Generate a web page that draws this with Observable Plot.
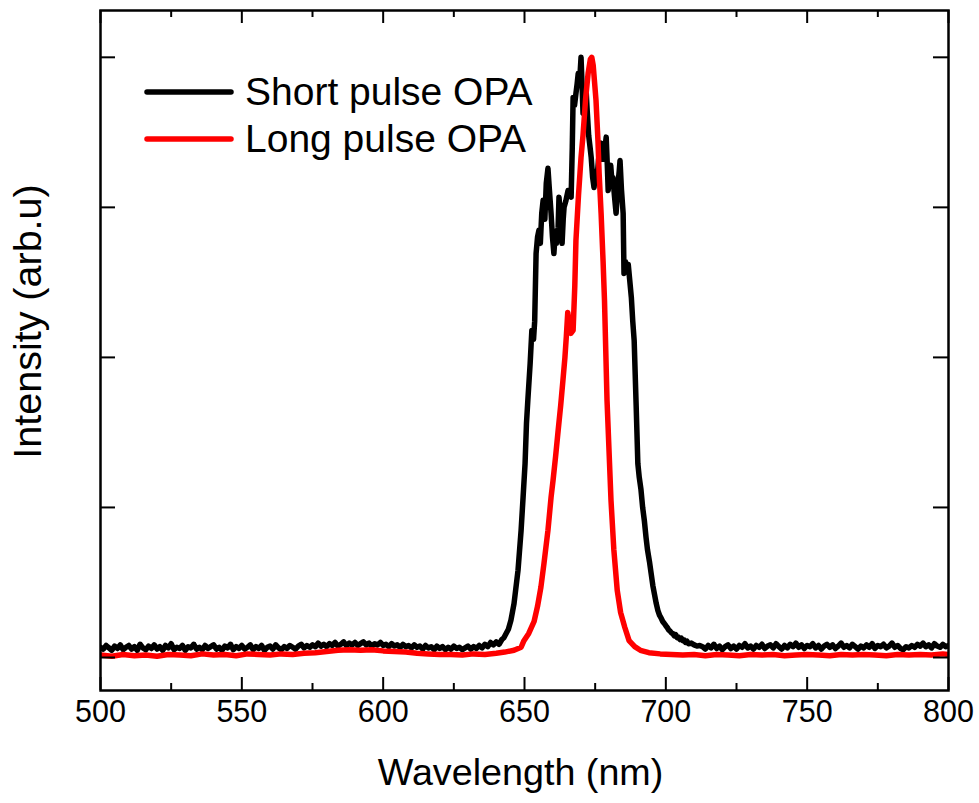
<!DOCTYPE html>
<html>
<head>
<meta charset="utf-8">
<script src="https://cdn.jsdelivr.net/npm/d3@7"></script>
<script src="https://cdn.jsdelivr.net/npm/@observablehq/plot@0.6"></script>
<style>
  html, body { margin: 0; padding: 0; background: #fff; }
  #wrap { position: relative; width: 979px; height: 803px; }
  #legend { position: absolute; left: 0; top: 0; pointer-events: none; }
</style>
</head>
<body>
<div id="wrap"></div>
<script>
// ---- data ----
const seriesNames = ["Short pulse OPA", "Long pulse OPA"];
const seriesColors = ["#000000", "#ff0000"];

const xTicks = [500, 550, 600, 650, 700, 750, 800];
const xMinorTicks = [525, 575, 625, 675, 725, 775];
const yTicks = [0, 0.25, 0.5, 0.75, 1];

// Short pulse OPA (black)
const blackWl = [
  500,501,502,503,504,505,506,507,508,509,
  510,511,512,513,514,515,516,517,518,519,
  520,521,522,523,524,525,526,527,528,529,
  530,531,532,533,534,535,536,537,538,539,
  540,541,542,543,544,545,546,547,548,549,
  550,551,552,553,554,555,556,557,558,559,
  560,561,562,563,564,565,566,567,568,569,
  570,571,572,573,574,575,576,577,578,579,
  580,581,582,583,584,585,586,587,588,589,
  590,591,592,593,594,595,596,597,598,599,
  600,601,602,603,604,605,606,607,608,609,
  610,611,612,613,614,615,616,617,618,619,
  620,621,622,623,624,625,626,627,628,629,
  630,631,632,633,634,635,636,637,638,639,
  640,641,642,642.7,643.5,644.3,645.2,646.3,647.7,648.8,649.5,650.2,650.7,651.2,652,652.6,653.2,653.6,654.1,654.6,
  655.1,655.6,656.1,656.6,657.2,657.7,658.3,658.8,659.4,659.9,660.4,660.9,661.3,661.9,662.2,662.7,663.3,663.7,664,664.6,
  665.4,666,666.5,666.9,667.2,667.7,668.2,668.6,669,669.5,670,670.4,670.7,671.2,671.8,672.2,672.7,673.2,673.6,674.1,
  674.6,675.1,675.6,676.2,677.1,677.6,678,678.5,678.9,679.3,679.6,680.1,680.5,681,681.3,681.8,682.4,682.8,683.1,683.5,
  683.8,684.3,684.9,685.2,685.7,686.2,686.7,687.2,687.8,688.3,688.8,689.5,690.1,690.6,691.2,691.8,692.4,693,693.5,694.2,
  694.8,695.4,696,696.6,697.2,697.8,698.3,698.9,699.4,700,700.5,701,701.5,702,702.5,703,703.5,704,704.4,705,
  705.5,706,706.5,707,707.5,708,709,710,711,712,
  713,714,715,716,717,718,719,720,721,
  722,723,724,725,726,727,728,729,730,731,
  732,733,734,735,736,737,738,739,740,741,
  742,743,744,745,746,747,748,749,750,751,
  752,753,754,755,756,757,758,759,760,761,
  762,763,764,765,766,767,768,769,770,771,
  772,773,774,775,776,777,778,779,780,781,
  782,783,784,785,786,787,788,789,790,791,
  792,793,794,795,796,797,798,799,800
];
const blackInt = [
  .017,.014,.020,.016,.012,.019,.015,.021,.013,.017,
  .020,.014,.018,.012,.022,.016,.013,.019,.015,.021,
  .014,.018,.012,.020,.016,.023,.013,.017,.015,.020,
  .012,.018,.016,.022,.014,.017,.013,.020,.015,.018,
  .021,.014,.017,.012,.019,.016,.022,.013,.018,.015,
  .020,.014,.017,.021,.013,.018,.015,.020,.012,.017,
  .019,.014,.021,.016,.013,.018,.015,.020,.017,.014,
  .019,.022,.016,.020,.017,.021,.018,.024,.019,.022,
  .018,.023,.020,.025,.019,.022,.026,.020,.024,.021,
  .025,.020,.023,.026,.021,.024,.019,.023,.021,.025,
  .020,.022,.018,.023,.019,.021,.017,.022,.018,.020,
  .016,.021,.017,.019,.014,.020,.016,.018,.013,.019,
  .015,.018,.013,.017,.014,.019,.015,.017,.013,.016,
  .019,.014,.018,.015,.020,.016,.022,.018,.025,.021,
  .026,.022,.030,.033,.040,.047,.062,.090,.145,.212,.267,.323,.390,.430,.490,.545,.530,.560,.673,.700,
  .712,.690,.740,.762,.730,.790,.815,.780,.740,.700,.673,.710,.690,.717,.767,.740,.690,.730,.750,.760,
  .778,.770,.767,.850,.933,.920,.940,.955,.973,.960,1.000,.950,.907,.930,.945,.910,.870,.850,.833,.800,
  .783,.810,.795,.830,.857,.830,.845,.850,.867,.820,.778,.800,.820,.790,.800,.770,.740,.770,.790,.810,
  .828,.780,.740,.640,.660,.645,.655,.630,.600,.560,.528,.420,.323,.300,.280,.250,.228,.200,.180,.160,
  .140,.120,.105,.090,.078,.070,.066,.060,.057,.053,.050,.046,.044,.041,.040,.036,.038,.033,.034,.030,
  .032,.028,.029,.025,.027,.023,.024,.021,.019,.020,
  .018,.014,.020,.016,.022,.015,.019,.013,.018,
  .021,.015,.019,.014,.020,.017,.023,.016,.019,.014,
  .020,.017,.022,.015,.019,.021,.016,.023,.018,.014,
  .020,.016,.022,.018,.024,.017,.021,.015,.020,.018,
  .023,.016,.020,.014,.019,.022,.017,.021,.015,.019,
  .024,.017,.020,.016,.022,.018,.014,.019,.016,.021,
  .017,.023,.015,.020,.018,.022,.016,.019,.024,.017,
  .020,.015,.013,.018,.016,.020,.017,.022,.019,.024,
  .018,.021,.016,.023,.019,.017,.022,.018,.020
];

// Long pulse OPA (red)
const redWl = [
  500,504,508,512,516,520,524,528,532,536,540,544,548,552,556,560,564,568,572,576,
  580,584,588,592,596,600,604,608,612,616,620,624,628,632,636,640,643,646.3,648.8,649.8,
  651.5,653.4,654.6,655.8,656.9,658.3,659.4,660.1,661,661.9,662.8,663.6,664.3,664.8,665.3,665.8,666.4,667.2,667.8,668.2,
  669.1,670,670.7,671.6,672.5,673.3,673.8,674.3,675.3,676,676.4,677.1,677.8,678.3,679.2,680.6,681.6,682.8,684,685.5,
  687,689,691,694,698,702,706,710,714,718,722,726,730,734,738,742,746,750,754,758,
  762,766,770,774,778,782,786,790,794,798,800
];
const redInt = [
  .004,.002,.005,.003,.004,.002,.005,.004,.003,.006,.004,.005,.003,.006,.005,.004,.006,.005,.007,.008,
  .010,.012,.013,.012,.013,.011,.010,.009,.007,.006,.005,.005,.004,.006,.005,.007,.009,.012,.017,.028,
  .040,.060,.085,.117,.157,.212,.267,.295,.335,.378,.420,.462,.500,.535,.575,.560,.540,.545,.620,.695,
  .770,.833,.870,.930,.973,.997,1.000,.987,.928,.860,.807,.740,.660,.595,.428,.262,.180,.112,.075,.050,
  .028,.018,.012,.008,.006,.005,.004,.005,.003,.005,.004,.003,.005,.004,.005,.003,.004,.005,.004,.003,
  .005,.004,.005,.004,.003,.005,.004,.005,.004,.006,.005
];

const xLabel = "Wavelength (nm)";
const yLabel = "Intensity (arb.u)";

// ---- build ----
const black = blackWl.map((w, i) => ({w, v: blackInt[i]}));
const red = redWl.map((w, i) => ({w, v: redInt[i]}));

const W = 979, H = 803;
const mL = 100, mR = 31, mT = 10, mB = 113;
const innerH = H - mT - mB, innerW = W - mL - mR;

const chart = Plot.plot({
  width: W, height: H,
  marginLeft: mL, marginRight: mR, marginTop: mT, marginBottom: mB,
  style: {fontFamily: "'Liberation Sans', Arial, sans-serif", background: "#fff", color: "#000"},
  x: {domain: [500, 800]},
  y: {domain: [-0.055, 1.078], axis: null},
  marks: [
    Plot.line(black, {x: "w", y: "v", stroke: seriesColors[0], strokeWidth: 5.5, strokeLinejoin: "round", strokeLinecap: "round", clip: true}),
    Plot.line(red, {x: "w", y: "v", stroke: seriesColors[1], strokeWidth: 5.5, strokeLinejoin: "round", strokeLinecap: "round", clip: true}),
    // inward ticks: bottom & top
    Plot.tickX(xTicks, {x: d => d, stroke: "#000", strokeWidth: 2, insetTop: innerH - 13}),
    Plot.tickX(xTicks, {x: d => d, stroke: "#000", strokeWidth: 2, insetBottom: innerH - 13}),
    Plot.tickX(xMinorTicks, {x: d => d, stroke: "#000", strokeWidth: 2, insetTop: innerH - 7}),
    Plot.tickX(xMinorTicks, {x: d => d, stroke: "#000", strokeWidth: 2, insetBottom: innerH - 7}),
    // inward ticks: left & right
    Plot.tickY(yTicks, {y: d => d, stroke: "#000", strokeWidth: 2, insetRight: innerW - 15}),
    Plot.tickY(yTicks, {y: d => d, stroke: "#000", strokeWidth: 2, insetLeft: innerW - 15}),
    Plot.frame({stroke: "#000", strokeWidth: 2.5}),
    Plot.axisX({ticks: xTicks, tickSize: 0, tickPadding: 10, fontSize: 30.5, label: null, tickFormat: d => String(d)}),
    Plot.text([xLabel], {text: d => d, frameAnchor: "bottom", lineAnchor: "bottom", textAnchor: "middle", dy: 94, dx: -4, fontSize: 37.7, fill: "#000"}),
    Plot.text([yLabel], {text: d => d, frameAnchor: "left", rotate: -90, lineAnchor: "middle", textAnchor: "middle", dx: -72, dy: -29, fontSize: 39.5, fill: "#000"})
  ]
});

const wrap = document.getElementById("wrap");
wrap.appendChild(chart);

// legend overlay
const ns = "http://www.w3.org/2000/svg";
const leg = document.createElementNS(ns, "svg");
leg.setAttribute("id", "legend");
leg.setAttribute("width", W);
leg.setAttribute("height", H);
const rows = [{lineY: 92, textY: 105}, {lineY: 139, textY: 152}];
seriesNames.forEach((name, i) => {
  const ln = document.createElementNS(ns, "line");
  ln.setAttribute("x1", 147); ln.setAttribute("x2", 231);
  ln.setAttribute("y1", rows[i].lineY); ln.setAttribute("y2", rows[i].lineY);
  ln.setAttribute("stroke", seriesColors[i]);
  ln.setAttribute("stroke-width", 5.5);
  ln.setAttribute("stroke-linecap", "round");
  leg.appendChild(ln);
  const tx = document.createElementNS(ns, "text");
  tx.setAttribute("x", 245); tx.setAttribute("y", rows[i].textY);
  tx.setAttribute("font-family", "'Liberation Sans', Arial, sans-serif");
  tx.setAttribute("font-size", 39);
  tx.setAttribute("fill", "#000");
  tx.textContent = name;
  leg.appendChild(tx);
});
wrap.appendChild(leg);
</script>
</body>
</html>
